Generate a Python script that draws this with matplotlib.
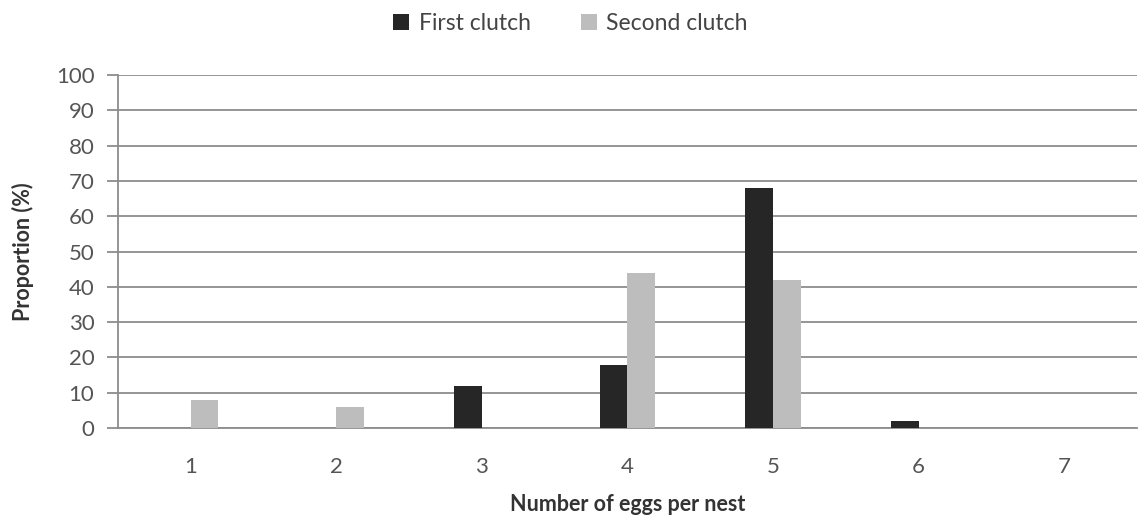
import matplotlib
matplotlib.use("Agg")
import matplotlib.pyplot as plt
import numpy as np

categories = ["1", "2", "3", "4", "5", "6", "7"]
first_clutch = [0, 0, 12, 18, 68, 2, 0]
second_clutch = [8, 6, 0, 44, 42, 0, 0]
yticks = [0, 10, 20, 30, 40, 50, 60, 70, 80, 90, 100]

plt.rcParams['font.family'] = ['Lato', 'DejaVu Sans']

fig = plt.figure(figsize=(11.41, 5.22), dpi=100)
ax = fig.add_axes([0.1034, 0.180, 0.893, 0.676])

x = np.arange(len(categories))
w = 0.19
ax.bar(x - w / 2, first_clutch, width=w, color="#262626", label="First clutch", zorder=3)
ax.bar(x + w / 2, second_clutch, width=w, color="#bdbdbd", label="Second clutch", zorder=3)

ax.set_xlim(-0.5, len(categories) - 0.5)
ax.set_ylim(0, 100)
ax.set_yticks(yticks)
ax.set_xticks(x)
ax.set_xticklabels(categories)
ax.yaxis.grid(True, color="#8c8c8c", linewidth=1.3, zorder=0)
ax.set_axisbelow(True)

for s in ["top", "right"]:
    ax.spines[s].set_visible(False)
ax.spines["left"].set_color("#8c8c8c")
ax.spines["left"].set_linewidth(1.3)
ax.spines["bottom"].set_color("#8c8c8c")
ax.spines["bottom"].set_linewidth(1.3)
ax.tick_params(axis="y", length=8, width=1.3, color="#8c8c8c", labelsize=16, labelcolor="#555555", pad=9)
ax.tick_params(axis="x", length=0, labelsize=16, labelcolor="#555555", pad=21)

ax.set_xlabel("Number of eggs per nest", fontsize=15.5, fontweight="bold", color="#333333", labelpad=12)
ax.set_ylabel("Proportion (%)", fontsize=15.5, fontweight="bold", color="#333333", labelpad=16)

fig.legend(loc="upper center", bbox_to_anchor=(0.5, 1.014), ncol=2, frameon=False,
           fontsize=16.5, handlelength=0.7, handleheight=0.7, handletextpad=0.4,
           columnspacing=2.2, labelcolor="#444444")

fig.savefig("out.png", dpi=100)
